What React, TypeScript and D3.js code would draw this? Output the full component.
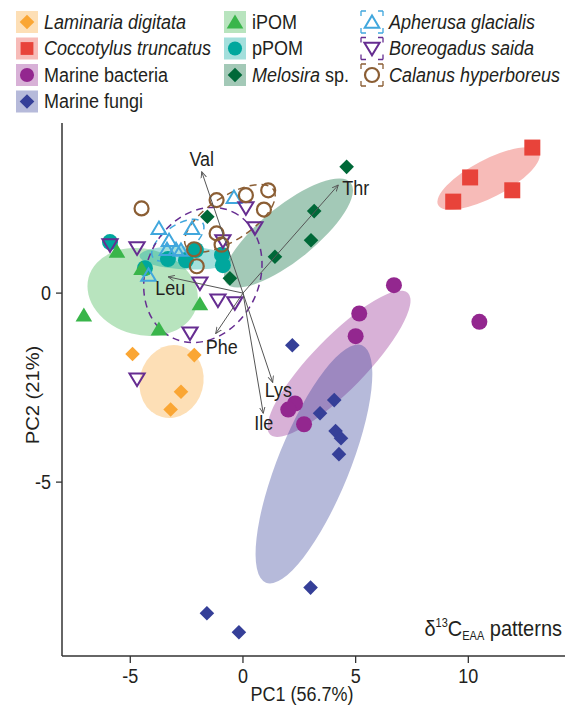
import React from "react";
import * as d3 from "d3";

const W = 567;
const H = 711;

// ---- axes ----
const xDomain = [-8.03, 14.29];
const yDomain = [-9.6, 4.5];
const xTicks = [-5, 0, 5, 10];
const yTicks = [-5, 0];
const xLabel = "PC1 (56.7%)";
const yLabel = "PC2 (21%)";

// ---- scores (PC1, PC2) ----
const laminaria = [[-4.9, -1.61], [-2.16, -1.64], [-2.75, -2.61], [-3.21, -3.08]];
const coccotylus = [[12.84, 3.85], [10.08, 3.06], [11.95, 2.72], [9.33, 2.42]];
const bacteria = [[6.7, 0.21], [5.16, -0.54], [5.0, -1.14], [2.31, -2.92], [2.01, -3.08], [2.71, -3.47], [10.49, -0.76]];
const fungi = [[2.19, -1.38], [4.05, -2.83], [3.42, -3.18], [4.11, -3.65], [4.35, -3.84], [4.26, -4.26], [3.0, -7.79], [-1.6, -8.47], [-0.18, -8.97]];
const ipom = [[-5.59, 1.11], [-4.5, 0.65], [-7.06, -0.58], [-1.91, -0.28], [-3.73, -0.95]];
const ppom = [[-5.9, 1.35], [-4.35, 0.66], [-3.33, 0.9], [-2.53, 0.87], [-2.09, 1.14], [-0.93, 1.01], [-0.89, 0.74]];
const melosira = [[4.6, 3.34], [3.16, 2.17], [3.02, 1.4], [1.42, 0.96], [-0.58, 0.39], [-1.58, 2.02]];
const apherusa = [[-0.4, 2.54], [-3.73, 1.72], [-2.26, 1.72], [-3.28, 1.4], [-3.37, 1.16], [-2.97, 1.16], [-2.75, 1.14], [-4.19, 0.48]];
const boreogadus = [[-5.9, 1.27], [-4.7, 1.19], [0.13, 2.25], [0.53, 1.72], [-0.89, 1.38], [-1.91, 0.26], [-1.11, -0.19], [-0.36, -0.26], [-2.35, -1.06], [-4.7, -2.28]];
const calanus = [[-4.5, 2.24], [-1.17, 2.46], [0.13, 2.59], [1.12, 2.72], [0.93, 2.21], [-1.17, 1.58], [-0.95, 1.28], [-2.17, 1.16], [-2.05, 0.71]];

// ---- group ellipses: centre, end of major axis (data units), minor/major ratio ----
const ellLaminaria = { c: [-3.17, -2.34], m: [-2.75, -1.4], r: 0.865 };
const ellCoccotylus = { c: [10.9, 3.03], m: [13.14, 3.73], r: 0.33 };
const ellBacteria = { c: [4.26, -1.87], m: [7.32, 0.0], r: 0.27 };
const ellFungi = { c: [3.15, -4.52], m: [5.28, -1.38], r: 0.28 };
const ellIpom = { c: [-4.45, 0.03], m: [-2.05, -0.35], r: 0.77 };
const ellPpom = { c: [-2.55, 0.93], m: [-0.51, 0.88], r: 0.25 };
const ellMelosira = { c: [2.02, 1.59], m: [4.78, 2.92], r: 0.34 };
const ellApherusa = { c: [-2.89, 1.4], m: [-1.79, 1.86], r: 0.47 };
const ellBoreogadus = { c: [-1.78, 0.48], m: [-0.46, 2.15], r: 0.81 };
const ellCalanus = { c: [-0.58, 1.98], m: [1.36, 2.73], r: 0.42 };

// ---- loadings ----
const loadNames = ["Val", "Thr", "Leu", "Phe", "Lys", "Ile"];
const loadX = [-1.83, 4.23, -3.32, -1.21, 1.32, 0.9];
const loadY = [3.21, 2.86, 0.43, -1.07, -2.36, -3.18];

type Shape = "diamond" | "square" | "circle" | "triUp" | "triUpOpen" | "triDownOpen" | "circleOpen";

const groups = [
  { name: "Laminaria digitata", italic: true, pts: laminaria, shape: "diamond" as Shape, color: "#FAA634", ell: ellLaminaria, dashed: false, col: 0, row: 0 },
  { name: "Coccotylus truncatus", italic: true, pts: coccotylus, shape: "square" as Shape, color: "#E8433A", ell: ellCoccotylus, dashed: false, col: 0, row: 1 },
  { name: "Marine bacteria", italic: false, pts: bacteria, shape: "circle" as Shape, color: "#93278F", ell: ellBacteria, dashed: false, col: 0, row: 2 },
  { name: "Marine fungi", italic: false, pts: fungi, shape: "diamond" as Shape, color: "#353F98", ell: ellFungi, dashed: false, col: 0, row: 3 },
  { name: "iPOM", italic: false, pts: ipom, shape: "triUp" as Shape, color: "#39B54A", ell: ellIpom, dashed: false, col: 1, row: 0 },
  { name: "pPOM", italic: false, pts: ppom, shape: "circle" as Shape, color: "#00A79D", ell: ellPpom, dashed: false, col: 1, row: 1 },
  { name: "Melosira", suffix: " sp.", italic: true, pts: melosira, shape: "diamond" as Shape, color: "#006838", ell: ellMelosira, dashed: false, col: 1, row: 2 },
  { name: "Apherusa glacialis", italic: true, pts: apherusa, shape: "triUpOpen" as Shape, color: "#41A7DD", ell: ellApherusa, dashed: true, col: 2, row: 0 },
  { name: "Boreogadus saida", italic: true, pts: boreogadus, shape: "triDownOpen" as Shape, color: "#662D91", ell: ellBoreogadus, dashed: true, col: 2, row: 1 },
  { name: "Calanus hyperboreus", italic: true, pts: calanus, shape: "circleOpen" as Shape, color: "#8B5E34", ell: ellCalanus, dashed: true, col: 2, row: 2 },
];

const drawOrder = [0, 1, 2, 3, 5, 4, 6, 7, 8, 9];

const FONT = "'Liberation Sans', Arial, Helvetica, sans-serif";
const SY = 1.12;
const TXT = "#231F20";

function Marker({ shape, color, x, y, s = 1 }: { shape: Shape; color: string; x: number; y: number; s?: number }) {
  const t = `translate(${x},${y}) scale(${s})`;
  switch (shape) {
    case "diamond":
      return <path transform={t} d="M0,-7.3L7.3,0L0,7.3L-7.3,0Z" fill={color} />;
    case "square":
      return <rect transform={t} x={-8} y={-8} width={16} height={16} fill={color} />;
    case "circle":
      return <circle transform={t} r={8} fill={color} />;
    case "triUp":
      return <path transform={t} d="M0,-7.5L8.3,6.5L-8.3,6.5Z" fill={color} />;
    case "triUpOpen":
      return <path transform={t} d="M0,-6.5L7.3,5.8L-7.3,5.8Z" fill="none" stroke={color} strokeWidth={2} strokeLinejoin="miter" />;
    case "triDownOpen":
      return <path transform={t} d="M-7.6,-5.8L7.6,-5.8L0,6.8Z" fill="none" stroke={color} strokeWidth={2} />;
    case "circleOpen":
      return <circle transform={t} r={7} fill="none" stroke={color} strokeWidth={2.2} />;
  }
  return null;
}

function T({ x, y, children, anchor = "start", italic = false, size = 18, rotate = 0 }: any) {
  return (
    <text
      transform={`translate(${x},${y}) scale(1,${SY})${rotate ? ` rotate(${rotate})` : ""}`}
      textAnchor={anchor}
      fontSize={size}
      fontStyle={italic ? "italic" : "normal"}
      fontFamily={FONT}
      fill={TXT}
    >
      {children}
    </text>
  );
}

export default function App() {
  const left = 62, right = 565, top = 123, bottom = 656;
  const xs = d3.scaleLinear().domain(xDomain).range([left, right]);
  const ys = d3.scaleLinear().domain(yDomain).range([bottom, top]);

  const ellipse = (e: any) => {
    const cx = xs(e.c[0]), cy = ys(e.c[1]);
    const mx = xs(e.m[0]), my = ys(e.m[1]);
    const a = Math.hypot(mx - cx, my - cy);
    const ang = (Math.atan2(my - cy, mx - cx) * 180) / Math.PI;
    return { cx, cy, a, b: a * e.r, ang };
  };

  const ox = xs(0), oy = ys(0);

  // label offsets for loading labels (px)
  const labOff: Record<string, [number, number, string]> = {
    Val: [0, -6, "middle"],
    Thr: [4, 10, "start"],
    Leu: [-13, 18, "start"],
    Phe: [-10, 20, "start"],
    Lys: [-8, 15, "start"],
    Ile: [-9, 17, "start"],
  };

  const colX = [16, 224, 361];
  const rowY = [22, 48.5, 75, 101.5];
  const SW = 22;

  return (
    <svg width={W} height={H} style={{ position: "absolute", left: 0, top: 0, background: "#fff" }} fontFamily={FONT}>
      <defs>
        <marker id="arr" viewBox="0 0 10 10" refX="9" refY="5" markerWidth="7" markerHeight="7" markerUnits="userSpaceOnUse" orient="auto">
          <path d="M0,1L9,5L0,9" fill="none" stroke="#555" strokeWidth={1.3} />
        </marker>
      </defs>

      {/* filled ellipses */}
      {groups.filter((g) => !g.dashed).map((g, i) => {
        const e = ellipse(g.ell);
        return (
          <ellipse key={"e" + i} cx={e.cx} cy={e.cy} rx={e.a} ry={e.b}
            transform={`rotate(${e.ang},${e.cx},${e.cy})`} fill={g.color} fillOpacity={0.36} />
        );
      })}
      {/* dashed ellipses */}
      {groups.filter((g) => g.dashed).map((g, i) => {
        const e = ellipse(g.ell);
        return (
          <ellipse key={"d" + i} cx={e.cx} cy={e.cy} rx={e.a} ry={e.b}
            transform={`rotate(${e.ang},${e.cx},${e.cy})`} fill="none" stroke={g.color}
            strokeWidth={1.5} strokeDasharray="7 5" />
        );
      })}

      {/* points */}
      {drawOrder.map((gi) => {
        const g = groups[gi];
        return g.pts.map((p, j) => (
          <Marker key={gi + "-" + j} shape={g.shape} color={g.color} x={xs(p[0])} y={ys(p[1])} />
        ));
      })}

      {/* loadings */}
      {loadNames.map((n, i) => {
        const ex = xs(loadX[i]), ey = ys(loadY[i]);
        const o = labOff[n];
        return (
          <g key={n}>
            <line x1={ox} y1={oy} x2={ex} y2={ey} stroke="#555" strokeWidth={1} markerEnd="url(#arr)" />
            <T x={ex + o[0]} y={ey + o[1]} anchor={o[2]}>{n}</T>
          </g>
        );
      })}

      {/* axes */}
      <line x1={left} y1={bottom} x2={right} y2={bottom} stroke="#333" strokeWidth={1.5} />
      <line x1={left} y1={top} x2={left} y2={bottom} stroke="#333" strokeWidth={1.5} />
      {xTicks.map((t) => (
        <g key={"xt" + t}>
          <line x1={xs(t)} x2={xs(t)} y1={bottom} y2={bottom + 7} stroke="#333" strokeWidth={1.3} />
          <T x={xs(t)} y={bottom + 27} anchor="middle">{String(t)}</T>
        </g>
      ))}
      {yTicks.map((t) => (
        <g key={"yt" + t}>
          <line x1={left - 6} x2={left} y1={ys(t)} y2={ys(t)} stroke="#333" strokeWidth={1.3} />
          <T x={left - 11} y={ys(t) + 7} anchor="end">{String(t)}</T>
        </g>
      ))}
      <T x={302} y={701} anchor="middle">{xLabel}</T>
      <text transform={`translate(39,395) scale(1,${SY}) rotate(-90)`} textAnchor="middle" fontSize={18} fontFamily={FONT} fill={TXT}>{yLabel}</text>

      {/* panel title */}
      <text transform={`translate(562,636) scale(1,${SY})`} textAnchor="end" fontFamily={FONT} fill={TXT}>
        <tspan fontSize={20}>δ</tspan>
        <tspan fontSize={11} dy={-8}>13</tspan>
        <tspan fontSize={20} dy={8}>C</tspan>
        <tspan fontSize={11} dy={4}>EAA</tspan>
        <tspan fontSize={20} dy={-4}> patterns</tspan>
      </text>

      {/* legend */}
      {groups.map((g, i) => {
        const x = colX[g.col], yc = rowY[g.row];
        const mk = g.shape === "square" ? 0.8 : g.shape === "circle" ? 0.88 : 1;
        return (
          <g key={"lg" + i}>
            {g.dashed ? (
              <rect x={x} y={yc - SW / 2} width={SW} height={SW} fill="none" stroke={g.color}
                strokeWidth={1.3} strokeDasharray="5 12 5 0" />
            ) : (
              <rect x={x} y={yc - SW / 2} width={SW} height={SW} fill={g.color} fillOpacity={0.36} />
            )}
            <Marker shape={g.shape} color={g.color} x={x + SW / 2} y={yc} s={mk} />
            <text transform={`translate(${x + 28},${yc + 6.5}) scale(1,${SY})`} fontSize={18} fontFamily={FONT} fill={TXT}>
              <tspan fontStyle={g.italic ? "italic" : "normal"}>{g.name}</tspan>
              {(g as any).suffix ? <tspan>{(g as any).suffix}</tspan> : null}
            </text>
          </g>
        );
      })}
    </svg>
  );
}
